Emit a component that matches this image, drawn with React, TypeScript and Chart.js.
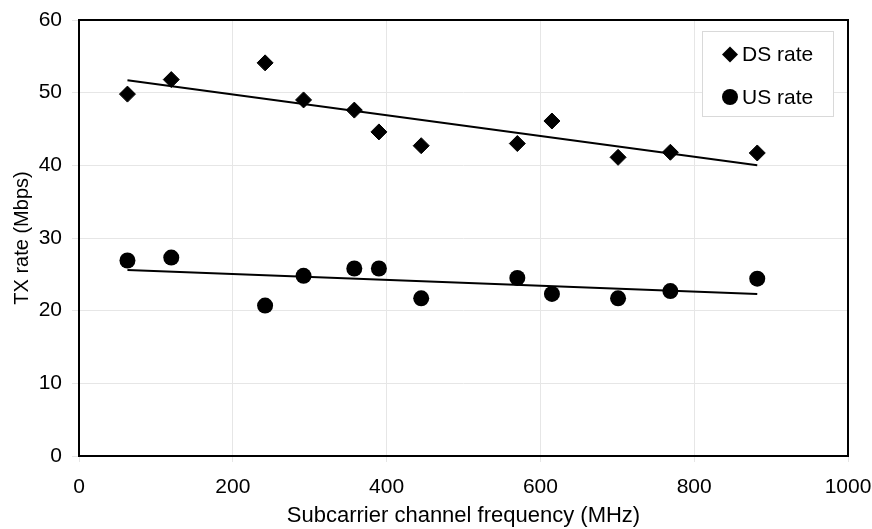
import React, { useEffect, useRef } from "react";
import { Chart, registerables } from "chart.js";

Chart.register(...registerables);

const frequencies = [63, 120, 242, 292, 358, 390, 445, 570, 615, 701, 769, 882];
const dsRate = [49.8, 51.8, 54.1, 49.0, 47.6, 44.6, 42.7, 43.0, 46.1, 41.1, 41.8, 41.7];
const usRate = [26.9, 27.3, 20.7, 24.8, 25.8, 25.8, 21.7, 24.5, 22.3, 21.7, 22.7, 24.4];
const trendX = [63, 882];
const dsTrend = [51.7, 40.0];
const usTrend = [25.6, 22.3];
const seriesNames = ["DS rate", "US rate"];
const xTitle = "Subcarrier channel frequency (MHz)";
const yTitle = "TX rate (Mbps)";

const FONT = "'Liberation Sans', Arial, Helvetica, sans-serif";

const frameAndLegend = {
  id: "frameAndLegend",
  afterDraw(chart: any) {
    const { ctx, chartArea } = chart;
    ctx.save();
    ctx.strokeStyle = "#000";
    ctx.lineWidth = 2;
    ctx.strokeRect(chartArea.left, chartArea.top, chartArea.right - chartArea.left, chartArea.bottom - chartArea.top);
    const bx = chartArea.right - 146;
    const by = chartArea.top + 11;
    ctx.fillStyle = "#fff";
    ctx.fillRect(bx, by, 131, 85);
    ctx.strokeStyle = "#d9d9d9";
    ctx.lineWidth = 1;
    ctx.strokeRect(bx + 0.5, by + 0.5, 131, 85);
    const mx = bx + 28;
    const y1 = by + 23.5;
    const y2 = by + 66;
    ctx.fillStyle = "#000";
    ctx.beginPath();
    ctx.moveTo(mx, y1 - 8);
    ctx.lineTo(mx + 8, y1);
    ctx.lineTo(mx, y1 + 8);
    ctx.lineTo(mx - 8, y1);
    ctx.closePath();
    ctx.fill();
    ctx.beginPath();
    ctx.arc(mx, y2, 8, 0, Math.PI * 2);
    ctx.fill();
    ctx.font = `21px ${FONT}`;
    ctx.textBaseline = "middle";
    ctx.textAlign = "left";
    ctx.fillText(seriesNames[0], bx + 40, y1 + 1);
    ctx.fillText(seriesNames[1], bx + 40, y2 + 1);
    ctx.restore();
  },
};

export default function App() {
  const canvasRef = useRef<HTMLCanvasElement | null>(null);

  useEffect(() => {
    document.body.style.margin = "0";
    const canvas = canvasRef.current;
    if (!canvas) return;
    const chart = new Chart(canvas, {
      type: "scatter",
      data: {
        datasets: [
          {
            label: seriesNames[0],
            data: frequencies.map((f, i) => ({ x: f, y: dsRate[i] })),
            pointStyle: "rectRot",
            pointRadius: 8,
            pointBorderWidth: 1,
            backgroundColor: "#000",
            borderColor: "#000",
            showLine: false,
          },
          {
            label: seriesNames[1],
            data: frequencies.map((f, i) => ({ x: f, y: usRate[i] })),
            pointStyle: "circle",
            pointRadius: 8,
            pointBorderWidth: 0,
            backgroundColor: "#000",
            borderColor: "#000",
            showLine: false,
          },
          {
            label: "DS trend",
            data: trendX.map((f, i) => ({ x: f, y: dsTrend[i] })),
            showLine: true,
            pointRadius: 0,
            borderColor: "#000",
            borderWidth: 2,
          },
          {
            label: "US trend",
            data: trendX.map((f, i) => ({ x: f, y: usTrend[i] })),
            showLine: true,
            pointRadius: 0,
            borderColor: "#000",
            borderWidth: 2,
          },
        ],
      },
      options: {
        responsive: false,
        animation: false,
        layout: { padding: { top: 20, right: 24, bottom: 0, left: 0 } },
        plugins: {
          legend: { display: false },
          tooltip: { enabled: false },
        },
        scales: {
          x: {
            type: "linear",
            min: 0,
            max: 1000,
            border: { display: false },
            grid: { color: "#e6e6e6", lineWidth: 1, tickLength: 6 },
            ticks: {
              stepSize: 200,
              color: "#000",
              padding: 13,
              maxRotation: 0,
              font: { family: FONT, size: 21 },
              callback: (v: any) => String(v),
            },
            title: {
              display: true,
              text: xTitle,
              color: "#000",
              font: { family: FONT, size: 22 },
              padding: { top: 0, bottom: 0 },
            },
            afterFit: (scale: any) => {
              scale.height = 73;
              scale.paddingLeft = 0;
              scale.paddingRight = 0;
            },
          },
          y: {
            type: "linear",
            min: 0,
            max: 60,
            border: { display: false },
            grid: { color: "#e6e6e6", lineWidth: 1, tickLength: 7 },
            ticks: {
              stepSize: 10,
              color: "#000",
              padding: 10,
              font: { family: FONT, size: 21 },
              callback: (v: any) => String(v),
            },
            title: {
              display: true,
              text: yTitle,
              color: "#000",
              font: { family: FONT, size: 20 },
              padding: { top: 10, bottom: 0 },
            },
            afterFit: (scale: any) => {
              scale.width = 79;
              scale.paddingTop = 0;
              scale.paddingBottom = 0;
            },
          },
        },
      },
      plugins: [frameAndLegend],
    });
    return () => chart.destroy();
  }, []);

  return (
    <div style={{ position: "absolute", left: 0, top: 0, width: 872, height: 529, background: "#fff" }}>
      <canvas ref={canvasRef} width={872} height={529} />
    </div>
  );
}
